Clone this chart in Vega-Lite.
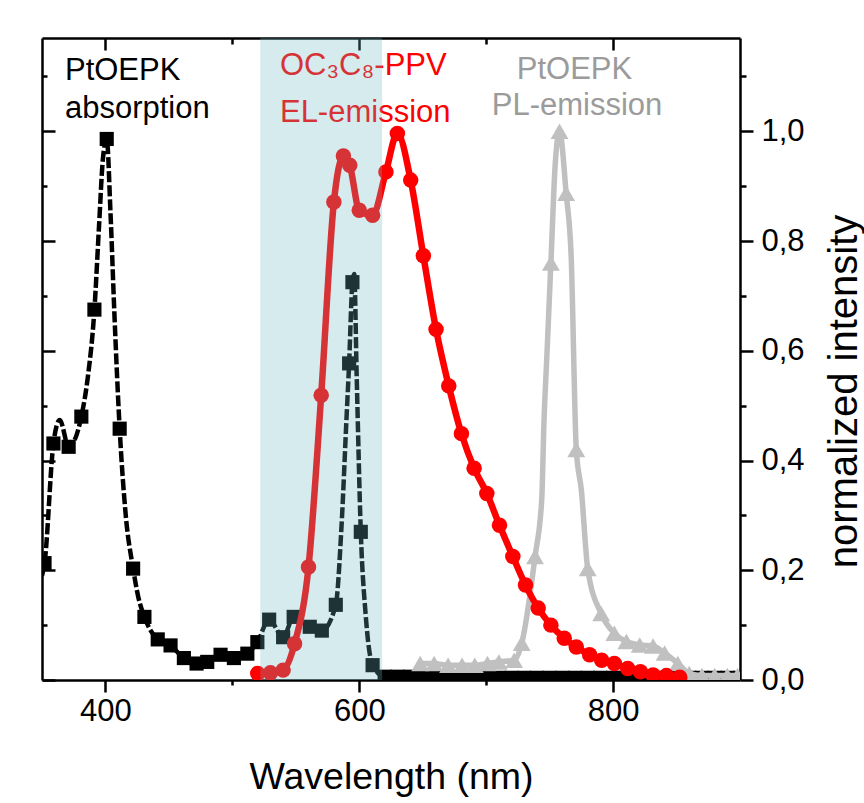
{
  "$schema": "https://vega.github.io/schema/vega-lite/v6.json",
  "width": 698,
  "height": 642,
  "autosize": {"type": "none"},
  "padding": {"left": 42, "top": 38, "right": 124, "bottom": 123},
  "background": "white",
  "config": {
    "view": {"stroke": null},
    "font": "Liberation Sans",
    "axis": {
      "grid": false,
      "domainColor": "black",
      "domainWidth": 2.5,
      "tickColor": "black",
      "tickWidth": 2.5,
      "labelColor": "black",
      "labelFont": "Liberation Sans",
      "labelFontSize": 31,
      "titleFont": "Liberation Sans",
      "titleFontSize": 37.5,
      "titleFontWeight": "normal",
      "titleColor": "black",
      "zindex": 1
    }
  },
  "datasets": {
    "abs": [
      {"wl": 350, "v": 0.19, "m": 0},
      {"wl": 352, "v": 0.213, "m": 1},
      {"wl": 359, "v": 0.431, "m": 1},
      {"wl": 364, "v": 0.474, "m": 0},
      {"wl": 371, "v": 0.425, "m": 1},
      {"wl": 381, "v": 0.48, "m": 1},
      {"wl": 386, "v": 0.55, "m": 0},
      {"wl": 391.3, "v": 0.675, "m": 1},
      {"wl": 395, "v": 0.83, "m": 0},
      {"wl": 398, "v": 0.95, "m": 0},
      {"wl": 401, "v": 0.986, "m": 1},
      {"wl": 404, "v": 0.85, "m": 0},
      {"wl": 407, "v": 0.67, "m": 0},
      {"wl": 411.2, "v": 0.458, "m": 1},
      {"wl": 416, "v": 0.3, "m": 0},
      {"wl": 421.8, "v": 0.203, "m": 1},
      {"wl": 426, "v": 0.15, "m": 0},
      {"wl": 430.7, "v": 0.115, "m": 1},
      {"wl": 441.2, "v": 0.074, "m": 1},
      {"wl": 451.3, "v": 0.063, "m": 1},
      {"wl": 461.8, "v": 0.04, "m": 1},
      {"wl": 471.8, "v": 0.03, "m": 1},
      {"wl": 480.2, "v": 0.033, "m": 1},
      {"wl": 490.7, "v": 0.046, "m": 1},
      {"wl": 501.2, "v": 0.04, "m": 1},
      {"wl": 511.8, "v": 0.048, "m": 1},
      {"wl": 519.7, "v": 0.069, "m": 1},
      {"wl": 529, "v": 0.11, "m": 1},
      {"wl": 540, "v": 0.078, "m": 1},
      {"wl": 548.3, "v": 0.115, "m": 1},
      {"wl": 561, "v": 0.097, "m": 1},
      {"wl": 570.5, "v": 0.09, "m": 1},
      {"wl": 581.5, "v": 0.137, "m": 1},
      {"wl": 586, "v": 0.28, "m": 0},
      {"wl": 590, "v": 0.48, "m": 0},
      {"wl": 592, "v": 0.577, "m": 1},
      {"wl": 594.6, "v": 0.725, "m": 1},
      {"wl": 596, "v": 0.74, "m": 0},
      {"wl": 598, "v": 0.55, "m": 0},
      {"wl": 601.2, "v": 0.27, "m": 1},
      {"wl": 605, "v": 0.12, "m": 0},
      {"wl": 610.5, "v": 0.027, "m": 1},
      {"wl": 620, "v": 0.006, "m": 1},
      {"wl": 630, "v": 0.006, "m": 1},
      {"wl": 640, "v": 0.006, "m": 1},
      {"wl": 650, "v": 0.005, "m": 1},
      {"wl": 660, "v": 0.005, "m": 1},
      {"wl": 670, "v": 0.005, "m": 1},
      {"wl": 680, "v": 0.005, "m": 1},
      {"wl": 690, "v": 0.004, "m": 1},
      {"wl": 700, "v": 0.004, "m": 1},
      {"wl": 710, "v": 0.004, "m": 1},
      {"wl": 720, "v": 0.004, "m": 1},
      {"wl": 730, "v": 0.004, "m": 1},
      {"wl": 740, "v": 0.004, "m": 1},
      {"wl": 750, "v": 0.004, "m": 1},
      {"wl": 760, "v": 0.004, "m": 1},
      {"wl": 770, "v": 0.004, "m": 1},
      {"wl": 780, "v": 0.004, "m": 1},
      {"wl": 790, "v": 0.004, "m": 1},
      {"wl": 800, "v": 0.004, "m": 1},
      {"wl": 810, "v": 0.004, "m": 1},
      {"wl": 820, "v": 0.004, "m": 1},
      {"wl": 830, "v": 0.004, "m": 1},
      {"wl": 840, "v": 0.004, "m": 1},
      {"wl": 850, "v": 0.004, "m": 1},
      {"wl": 860, "v": 0.004, "m": 1},
      {"wl": 870, "v": 0.004, "m": 1},
      {"wl": 880, "v": 0.004, "m": 1},
      {"wl": 890, "v": 0.004, "m": 1},
      {"wl": 900, "v": 0.004, "m": 1}
    ],
    "el": [
      {"wl": 520, "v": 0.012, "m": 1},
      {"wl": 530, "v": 0.013, "m": 1},
      {"wl": 540, "v": 0.018, "m": 1},
      {"wl": 549, "v": 0.066, "m": 1},
      {"wl": 560, "v": 0.206, "m": 1},
      {"wl": 570, "v": 0.519, "m": 1},
      {"wl": 580, "v": 0.871, "m": 1},
      {"wl": 587.5, "v": 0.955, "m": 1},
      {"wl": 592.5, "v": 0.938, "m": 1},
      {"wl": 600, "v": 0.856, "m": 1},
      {"wl": 610.5, "v": 0.847, "m": 1},
      {"wl": 621, "v": 0.926, "m": 1},
      {"wl": 630, "v": 0.996, "m": 1},
      {"wl": 640.5, "v": 0.911, "m": 1},
      {"wl": 650.5, "v": 0.773, "m": 1},
      {"wl": 660.5, "v": 0.639, "m": 1},
      {"wl": 670.5, "v": 0.536, "m": 1},
      {"wl": 680.5, "v": 0.449, "m": 1},
      {"wl": 690.5, "v": 0.386, "m": 1},
      {"wl": 700.5, "v": 0.34, "m": 1},
      {"wl": 710.5, "v": 0.282, "m": 1},
      {"wl": 721, "v": 0.225, "m": 1},
      {"wl": 731, "v": 0.173, "m": 1},
      {"wl": 741, "v": 0.131, "m": 1},
      {"wl": 751, "v": 0.1, "m": 1},
      {"wl": 761.5, "v": 0.076, "m": 1},
      {"wl": 771, "v": 0.06, "m": 1},
      {"wl": 781.5, "v": 0.046, "m": 1},
      {"wl": 791, "v": 0.036, "m": 1},
      {"wl": 801, "v": 0.03, "m": 1},
      {"wl": 811.5, "v": 0.021, "m": 1},
      {"wl": 821.5, "v": 0.015, "m": 1},
      {"wl": 831.5, "v": 0.009, "m": 1},
      {"wl": 842, "v": 0.008, "m": 1},
      {"wl": 852.5, "v": 0.005, "m": 1}
    ],
    "pl": [
      {"wl": 648, "v": 0.03, "m": 1},
      {"wl": 659, "v": 0.03, "m": 1},
      {"wl": 670, "v": 0.027, "m": 1},
      {"wl": 681, "v": 0.027, "m": 1},
      {"wl": 691, "v": 0.027, "m": 1},
      {"wl": 701, "v": 0.03, "m": 1},
      {"wl": 710, "v": 0.033, "m": 1},
      {"wl": 722, "v": 0.036, "m": 1},
      {"wl": 728, "v": 0.067, "m": 1},
      {"wl": 738.5, "v": 0.225, "m": 1},
      {"wl": 743.8, "v": 0.33, "m": 0},
      {"wl": 745.5, "v": 0.467, "m": 0},
      {"wl": 748, "v": 0.6, "m": 0},
      {"wl": 751, "v": 0.76, "m": 1},
      {"wl": 754.4, "v": 0.94, "m": 0},
      {"wl": 757.8, "v": 1.0, "m": 1},
      {"wl": 763, "v": 0.887, "m": 1},
      {"wl": 767, "v": 0.77, "m": 0},
      {"wl": 771, "v": 0.42, "m": 1},
      {"wl": 775, "v": 0.346, "m": 0},
      {"wl": 780, "v": 0.203, "m": 1},
      {"wl": 790.6, "v": 0.121, "m": 1},
      {"wl": 801, "v": 0.085, "m": 1},
      {"wl": 810.5, "v": 0.07, "m": 1},
      {"wl": 821, "v": 0.064, "m": 1},
      {"wl": 831.5, "v": 0.062, "m": 1},
      {"wl": 840.6, "v": 0.049, "m": 1},
      {"wl": 851, "v": 0.03, "m": 1},
      {"wl": 860, "v": 0.012, "m": 1},
      {"wl": 870, "v": 0.008, "m": 1},
      {"wl": 880, "v": 0.008, "m": 1},
      {"wl": 890, "v": 0.008, "m": 1},
      {"wl": 898, "v": 0.008, "m": 1}
    ],
    "labels": [
      {"t": "PtOEPK", "wl": 368.1, "v": 1.094, "s": "abs"},
      {"t": "absorption", "wl": 368.1, "v": 1.025, "s": "abs"},
      {"t": "OC₃C₈-PPV", "wl": 537.5, "v": 1.102, "s": "el"},
      {"t": "EL-emission", "wl": 537.5, "v": 1.017, "s": "el"},
      {"t": "PtOEPK", "wl": 724.1, "v": 1.096, "s": "pl"},
      {"t": "PL-emission", "wl": 704.4, "v": 1.029, "s": "pl"}
    ],
    "shade": [{"a": 522, "b": 618}]
  },
  "resolve": {"axis": {"x": "independent", "y": "independent"}},
  "layer": [
    {
      "data": {"name": "abs"},
      "mark": {"type": "line", "color": "black", "strokeWidth": 4.5, "strokeDash": [11, 3], "interpolate": "monotone", "clip": true},
      "encoding": {
        "x": {"field": "wl", "type": "quantitative", "scale": {"domain": [350, 900], "nice": false, "zero": false},
          "axis": {"orient": "bottom", "values": [400, 500, 600, 700, 800],
            "tickSize": {"condition": {"test": "datum.value % 200 == 0", "value": 12}, "value": 5},
            "labelExpr": "datum.value % 200 == 0 ? datum.label : ''",
            "labelPadding": 4, "title": "Wavelength (nm)", "titleX": 349, "titleY": 108, "titleBaseline": "alphabetic", "titleAnchor": null}},
        "y": {"field": "v", "type": "quantitative", "scale": {"domain": [0, 1.17], "nice": false},
          "axis": {"orient": "left", "values": [0, 0.1, 0.2, 0.3, 0.4, 0.5, 0.6, 0.7, 0.8, 0.9, 1.0, 1.1],
            "tickSize": {"condition": {"test": "round(datum.value * 10) % 2 == 0", "value": -13}, "value": -5},
            "labels": false, "title": null}}
      }
    },
    {
      "data": {"name": "abs"},
      "transform": [{"filter": "datum.m == 1"}],
      "mark": {"type": "point", "shape": "square", "filled": true, "color": "black", "size": 200, "opacity": 1, "clip": true},
      "encoding": {
        "x": {"field": "wl", "type": "quantitative",
          "axis": {"orient": "top", "values": [400, 500, 600, 700, 800],
            "tickSize": {"condition": {"test": "datum.value % 200 == 0", "value": -12}, "value": -6},
            "labels": false, "title": null}},
        "y": {"field": "v", "type": "quantitative",
          "axis": {"orient": "right", "values": [0, 0.1, 0.2, 0.3, 0.4, 0.5, 0.6, 0.7, 0.8, 0.9, 1.0, 1.1],
            "tickSize": {"condition": {"test": "round(datum.value * 10) % 2 == 0", "value": 13}, "value": 6},
            "labelExpr": "round(datum.value * 10) % 2 == 0 ? replace(format(datum.value, '.1f'), '.', ',') : ''",
            "labelPadding": 8,
            "title": "normalized intensity", "titleFontSize": 40, "titleAngle": 270, "titleX": 116, "titleY": 353, "titleBaseline": "alphabetic", "titleAlign": "center"}}
      }
    },
    {
      "data": {"name": "pl"},
      "mark": {"type": "line", "color": "#c0c0c0", "strokeWidth": 5.5, "interpolate": "monotone", "clip": true},
      "encoding": {
        "x": {"field": "wl", "type": "quantitative", "axis": null},
        "y": {"field": "v", "type": "quantitative", "axis": null}
      }
    },
    {
      "data": {"name": "pl"},
      "transform": [{"filter": "datum.m == 1"}],
      "mark": {"type": "point", "shape": "triangle-up", "filled": true, "color": "#c0c0c0", "size": 320, "opacity": 1, "clip": true},
      "encoding": {
        "x": {"field": "wl", "type": "quantitative", "axis": null},
        "y": {"field": "v", "type": "quantitative", "axis": null}
      }
    },
    {
      "data": {"name": "el"},
      "mark": {"type": "line", "color": "#ff0000", "strokeWidth": 6.5, "interpolate": "monotone", "clip": true},
      "encoding": {
        "x": {"field": "wl", "type": "quantitative", "axis": null},
        "y": {"field": "v", "type": "quantitative", "axis": null}
      }
    },
    {
      "data": {"name": "el"},
      "transform": [{"filter": "datum.m == 1"}],
      "mark": {"type": "point", "shape": "circle", "filled": true, "color": "#ff0000", "size": 240, "opacity": 1, "clip": true},
      "encoding": {
        "x": {"field": "wl", "type": "quantitative", "axis": null},
        "y": {"field": "v", "type": "quantitative", "axis": null}
      }
    },
    {
      "data": {"name": "labels"},
      "mark": {"type": "text", "align": "left", "baseline": "alphabetic", "fontSize": 31, "font": "Liberation Sans"},
      "encoding": {
        "x": {"field": "wl", "type": "quantitative", "axis": null},
        "y": {"field": "v", "type": "quantitative", "axis": null},
        "text": {"field": "t"},
        "color": {"field": "s", "type": "nominal", "scale": {"domain": ["abs", "el", "pl"], "range": ["#000000", "#ff0000", "#9b9b9b"]}, "legend": null}
      }
    },
    {
      "data": {"name": "shade"},
      "mark": {"type": "rect", "color": "#6db8c2", "opacity": 0.28},
      "encoding": {
        "x": {"field": "a", "type": "quantitative", "axis": null},
        "x2": {"field": "b"}
      }
    }
  ]
}
